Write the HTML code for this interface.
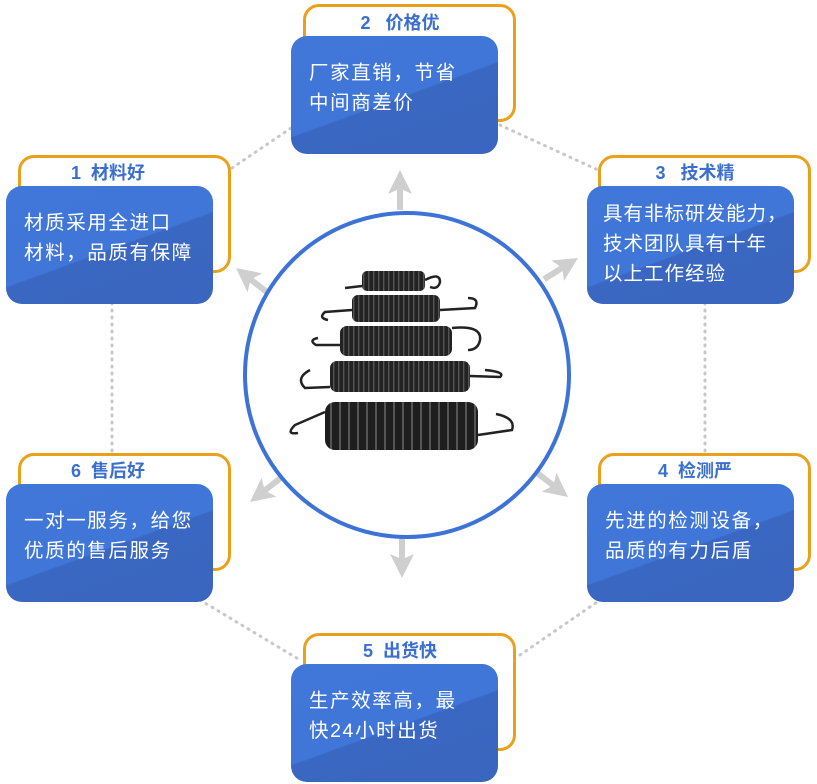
<!DOCTYPE html>
<html><head><meta charset="utf-8"><style>
body{margin:0;width:817px;height:784px;background:#fff;position:relative;overflow:hidden;font-family:"Liberation Sans","Noto Sans CJK SC",sans-serif}
.o{position:absolute;width:213px;height:118px;border:3px solid #e9a11b;border-radius:16px;box-sizing:border-box;background:#fff}
.t{position:absolute;width:180px;text-align:center;color:#3a6fd0;font-weight:bold;font-size:18px;line-height:20px}
.b{position:absolute;width:207px;height:118px;border-radius:16px;background:linear-gradient(160deg,#4077d9 0%,#3f76d8 52%,#3a67c1 53%,#3a66bf 100%);color:#fff;font-size:19.5px;line-height:30px;box-sizing:border-box;padding:22px 0 0 18px;letter-spacing:1.6px;white-space:nowrap}
svg{position:absolute;left:0;top:0}
</style></head><body>
<svg width="817" height="784">
<g stroke="#c8c8c8" stroke-width="3" stroke-dasharray="1 6" stroke-linecap="round" fill="none">
<line x1="232" y1="168" x2="300" y2="122"/>
<line x1="500" y1="125" x2="598" y2="170"/>
<line x1="705" y1="303" x2="705" y2="453"/>
<line x1="112" y1="303" x2="112" y2="453"/>
<line x1="200" y1="600" x2="300" y2="660"/>
<line x1="520" y1="655" x2="600" y2="600"/>
</g>
<g fill="#cfcfcf">
<path d="M400 170 L388 194 L397 190 L397 210 L403 210 L403 190 L412 194Z"/>
<path d="M402 578 L390 554 L399 558 L399 538 L405 538 L405 558 L414 554Z"/>
<g transform="translate(236,268) rotate(-52)"><path d="M0 0 L-12 24 L-3 20 L-3 40 L3 40 L3 20 L12 24Z"/></g>
<g transform="translate(578,258) rotate(58)"><path d="M0 0 L-12 24 L-3 20 L-3 40 L3 40 L3 20 L12 24Z"/></g>
<g transform="translate(568,497) rotate(128)"><path d="M0 0 L-12 24 L-3 20 L-3 40 L3 40 L3 20 L12 24Z"/></g>
<g transform="translate(250,502) rotate(-128)"><path d="M0 0 L-12 24 L-3 20 L-3 40 L3 40 L3 20 L12 24Z"/></g>
</g>
<circle cx="407" cy="375" r="162" fill="#fff" stroke="#3d73d6" stroke-width="4"/>
<defs><pattern id="c" width="5" height="10" patternUnits="userSpaceOnUse"><rect width="5" height="10" fill="#222"/><rect x="3" width="1.4" height="10" fill="#555"/></pattern>
<pattern id="c2" width="9" height="10" patternUnits="userSpaceOnUse"><rect width="9" height="10" fill="#1e1e1e"/><rect x="6" width="2" height="10" fill="#555"/></pattern></defs>
<g stroke="#222" stroke-width="2.5" fill="none">
<path d="M362 286 L345 288 M425 280 Q440 272 440 282 Q438 290 430 287"/>
<path d="M352 310 L325 312 Q318 318 328 320 M440 310 L475 308 Q480 298 468 298"/>
<path d="M340 345 L316 345 Q308 340 318 338 M452 328 Q482 325 480 340 Q478 350 468 350"/>
<path d="M330 387 L305 388 Q295 378 310 370 M470 376 L500 377 Q506 372 485 370"/>
<path d="M325 412 L295 425 Q285 435 298 433 M478 435 L512 430 Q516 418 496 414"/>
</g>
<rect x="362" y="271" width="63" height="20" rx="5" fill="url(#c)"/>
<rect x="352" y="295" width="88" height="27" rx="6" fill="url(#c)"/>
<rect x="340" y="326" width="112" height="30" rx="7" fill="url(#c)"/>
<rect x="330" y="361" width="140" height="31" rx="7" fill="url(#c)"/>
<rect x="325" y="402" width="153" height="48" rx="10" fill="url(#c2)"/>
</svg>

<div class="o" style="left:18px;top:155px"></div><div class="t" style="left:18px;top:163px">1&nbsp; 材料好</div>
<div class="b" style="left:6px;top:186px">材质采用全进口<br>材料，品质有保障</div>

<div class="o" style="left:303px;top:4px"></div><div class="t" style="left:310px;top:13px">2&nbsp;&nbsp; 价格优</div>
<div class="b" style="left:291px;top:36px">厂家直销，节省<br>中间商差价</div>

<div class="o" style="left:598px;top:155px"></div><div class="t" style="left:605px;top:163px">3&nbsp;&nbsp; 技术精</div>
<div class="b" style="left:587px;top:186px;padding-top:13px;padding-left:16px;letter-spacing:1px">具有非标研发能力，<br>技术团队具有十年<br>以上工作经验</div>

<div class="o" style="left:598px;top:453px"></div><div class="t" style="left:605px;top:461px">4&nbsp; 检测严</div>
<div class="b" style="left:587px;top:484px">先进的检测设备，<br>品质的有力后盾</div>

<div class="o" style="left:303px;top:633px"></div><div class="t" style="left:310px;top:641px">5&nbsp; 出货快</div>
<div class="b" style="left:291px;top:664px">生产效率高，最<br>快24小时出货</div>

<div class="o" style="left:18px;top:453px"></div><div class="t" style="left:18px;top:461px">6&nbsp; 售后好</div>
<div class="b" style="left:6px;top:484px">一对一服务，给您<br>优质的售后服务</div>
</body></html>
